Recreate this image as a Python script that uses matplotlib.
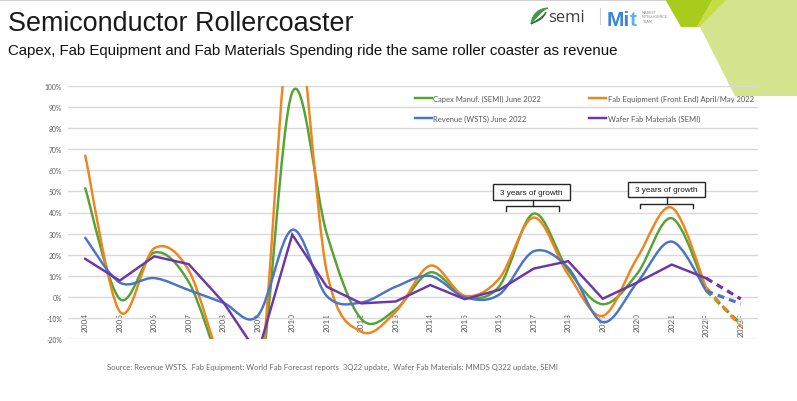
import numpy as np
import matplotlib
matplotlib.use("Agg")
import matplotlib.pyplot as plt
from matplotlib.path import Path
from matplotlib.patches import PathPatch, Polygon, Rectangle
from matplotlib.lines import Line2D

# ---------------- data (growth, %) ----------------
years = ["2004", "2005", "2006", "2007", "2008", "2009", "2010", "2011", "2012", "2013",
         "2014", "2015", "2016", "2017", "2018", "2019", "2020", "2021", "2022F", "2023F"]
capex = [51.5, -1.0, 21.0, 7.0, -34.0, -47.0, 97.0, 30.0, -10.5, -6.0,
         11.6, 0.0, 5.0, 39.5, 12.6, -3.5, 11.0, 37.3, 3.0, -13.0]
fab_equipment = [67.0, -7.0, 23.0, 12.5, -33.0, -49.0, 135.0, 12.0, -16.5, -7.0,
                 14.8, 0.5, 8.7, 37.6, 10.5, -9.0, 18.5, 42.3, 4.2, -14.0]
revenue = [28.0, 6.8, 8.9, 3.2, -2.8, -9.0, 31.8, 0.4, -2.7, 4.8,
           9.9, -0.2, 1.1, 21.6, 13.7, -12.0, 6.8, 26.2, 2.8, -3.3]
materials = [18.0, 7.7, 19.2, 15.5, -2.5, -27.0, 29.5, 4.8, -3.1, -2.2,
             5.6, -1.1, 3.3, 13.4, 16.9, -0.9, 6.8, 15.3, 8.8, -1.0]
series_labels = ["Capex Manuf. (SEMI) June 2022",
                 "Fab Equipment (Front End) April/May 2022",
                 "Revenue (WSTS) June 2022",
                 "Wafer Fab Materials (SEMI)"]
y_ticks = list(range(-20, 101, 10))
title = "Semiconductor Rollercoaster"
subtitle = "Capex, Fab Equipment and Fab Materials Spending ride the same roller coaster as revenue"
source = ("Source: Revenue WSTS.  Fab Equipment: World Fab Forecast reports  3Q22 update,  "
          "Wafer Fab Materials: MMDS Q322 update, SEMI")
note = "3 years of growth"

# ---------------- style ----------------
C_GREEN = "#55a332"
C_ORANGE = "#f0841e"
C_BLUE = "#4a74c4"
C_PURPLE = "#6c35a8"
GRID = "#d9d9d9"
TXT = "#595959"
CHART_FONT = "Lato"
HEAD_FONT = "Liberation Sans"

W, H = 797, 402
fig = plt.figure(figsize=(W / 100, H / 100), dpi=100)
fig.patch.set_facecolor("white")
renderer = fig.canvas.get_renderer()


def text_width(s, family, size, weight="normal"):
    t = fig.text(0, 0, s, fontsize=size, family=family, weight=weight)
    w = t.get_window_extent(renderer=renderer).width
    t.remove()
    return w


def fitted_size(s, family, target_px, weight="normal", base=10.0):
    return base * target_px / text_width(s, family, base, weight)


# ---------------- decoration layer (pixel coordinates) ----------------
deco = fig.add_axes([0, 0, 1, 1], zorder=0)
deco.set_xlim(0, W)
deco.set_ylim(H, 0)
deco.axis("off")

deco.plot([0, 665], [0.6, 0.6], color="#c9c9c9", lw=1.2)
deco.add_patch(Polygon([(728, 0), (797, 0), (797, 97), (735, 97), (700, 28)],
                       closed=True, fc="#d5e58f", ec="none"))
deco.add_patch(Polygon([(713, 0), (728, 0), (700, 28), (697, 28)],
                       closed=True, fc="#c6dd45", ec="none"))
deco.add_patch(Polygon([(665, 0), (713, 0), (697, 28), (681, 28)],
                       closed=True, fc="#a9cb1c", ec="none"))

# semi logo (swoosh + word)
sw = Path([(531, 25), (532, 14), (540, 9), (548, 9), (541, 12), (537, 18), (531, 25)],
          [Path.MOVETO, Path.CURVE4, Path.CURVE4, Path.CURVE4,
           Path.CURVE4, Path.CURVE4, Path.CURVE4])
deco.add_patch(PathPatch(sw, fc="#3d9a3d", ec="#3d9a3d", lw=0.6))
sw2 = Path([(531, 25), (538, 22), (544, 20), (546, 13), (542, 19), (537, 21), (531, 25)],
           [Path.MOVETO, Path.CURVE4, Path.CURVE4, Path.CURVE4,
            Path.CURVE4, Path.CURVE4, Path.CURVE4])
deco.add_patch(PathPatch(sw2, fc="#1f6e2a", ec="#1f6e2a", lw=0.6))
deco.text(548, 22, "semi", fontsize=12.0, family="Open Sans", color="#3f3f3f",
          va="baseline", ha="left")
deco.plot([600, 600], [9, 25], color="#d0d0d0", lw=0.8)
deco.text(607, 25.5, "Mi", fontsize=15, family="Liberation Sans", weight="bold",
          color="#3a86d6", va="baseline", ha="left")
deco.text(630, 25.5, "t", fontsize=15, family="Liberation Sans", weight="bold",
          color="#5fb3ea", va="baseline", ha="left")
deco.text(642, 17.5, "MARKET\nINTELLIGENCE\nTEAM", fontsize=2.6, family="DejaVu Sans",
          color="#8a8a8a", va="center", ha="left", linespacing=1.2)

# headings
deco.text(8, 31, title, family=HEAD_FONT, color="#1a1a1a", va="baseline", ha="left",
          fontsize=fitted_size(title, HEAD_FONT, 347))
deco.text(8, 55, subtitle, family=HEAD_FONT, color="#111111", va="baseline", ha="left",
          fontsize=fitted_size(subtitle, HEAD_FONT, 614))
deco.text(107, 370, source, family=CHART_FONT, color="#6a6a6a", va="baseline", ha="left",
          fontsize=fitted_size(source, CHART_FONT, 449))

# ---------------- chart ----------------
ax = fig.add_axes([68 / W, 1 - 340 / H, 690 / W, 253 / H], zorder=2)
ax.patch.set_alpha(0)
x = np.arange(len(years))
ax.set_xlim(-0.5, len(years) - 0.5)
ax.set_ylim(y_ticks[0], y_ticks[-1])
for s in ax.spines.values():
    s.set_visible(False)

ax.set_yticks(y_ticks)
ytick_fs = fitted_size("-10%", CHART_FONT, 15.7)
ax.set_yticklabels([f"{v}%" for v in y_ticks], family=CHART_FONT, fontsize=ytick_fs, color=TXT)
ax.tick_params(axis="y", length=0, pad=4.3)
ax.yaxis.grid(True, color=GRID, lw=1.0)
ax.set_axisbelow(True)

xtick_fs = fitted_size("2004", CHART_FONT, 19)
ax.set_xticks(x)
ax.set_xticklabels(years, rotation=90, family=CHART_FONT, fontsize=xtick_fs, color=TXT)
ax.tick_params(axis="x", length=0, pad=-19.4)


def smooth_path(xs, ys):
    pts = np.column_stack([xs, ys]).astype(float)
    n = len(pts)
    verts = [pts[0]]
    codes = [Path.MOVETO]
    for i in range(n - 1):
        p0 = pts[i - 1] if i > 0 else pts[i]
        p1 = pts[i]
        p2 = pts[i + 1]
        p3 = pts[i + 2] if i + 2 < n else pts[i + 1]
        verts += [p1 + (p2 - p0) / 6.0, p2 - (p3 - p1) / 6.0, p2]
        codes += [Path.CURVE4] * 3
    return Path(verts, codes)


LW = 1.75
n_act = len(years) - 1  # solid through 2022F, dashed to 2023F
for vals, col in [(capex, C_GREEN), (fab_equipment, C_ORANGE), (revenue, C_BLUE)]:
    ax.add_patch(PathPatch(smooth_path(x[:n_act], vals[:n_act]), fill=False,
                           edgecolor=col, lw=LW, capstyle="round", joinstyle="round"))
ax.plot(x[:n_act], materials[:n_act], color=C_PURPLE, lw=LW, solid_joinstyle="miter")

for vals, col in [(capex, C_GREEN), (fab_equipment, C_ORANGE), (revenue, C_BLUE), (materials, C_PURPLE)]:
    ax.plot(x[n_act - 1:], vals[n_act - 1:], color=col, lw=2.3, ls=(0, (2.2, 1.6)),
            dash_capstyle="butt")

# legend
leg_fs = fitted_size(series_labels[1], CHART_FONT, 145)
fs_px = leg_fs * 100 / 72
w_capex = text_width(series_labels[0], CHART_FONT, leg_fs)
handle_px, pad_px = 17, 1.5
col_space = (589 - (415 + handle_px + pad_px + w_capex)) / fs_px
handles = [Line2D([], [], color=C_GREEN, lw=LW), Line2D([], [], color=C_BLUE, lw=LW),
           Line2D([], [], color=C_ORANGE, lw=LW), Line2D([], [], color=C_PURPLE, lw=LW)]
labels = [series_labels[0], series_labels[2], series_labels[1], series_labels[3]]
leg = ax.legend(handles, labels, ncol=2, loc="upper left",
                bbox_to_anchor=((415 - 68) / 690, (340 - 95.5) / 253),
                frameon=False, borderpad=0, borderaxespad=0,
                handlelength=handle_px / fs_px, handletextpad=pad_px / fs_px,
                columnspacing=col_space, labelspacing=(21 - fs_px * 1.0) / fs_px,
                prop={"family": CHART_FONT, "size": leg_fs})
for t in leg.get_texts():
    t.set_color(TXT)

# "3 years of growth" call-outs (annotation geometry in data units)
note_fs = fitted_size(note, HEAD_FONT, 62.7)
callouts = [
    # box x0, x1, y0, y1, bracket x0, x1, bracket y, tick bottom y, centre x
    (11.83, 14.05, 45.7, 53.6, 12.20, 13.74, 43.0, 40.9, 12.97),
    (15.74, 17.96, 47.3, 54.7, 16.08, 17.61, 44.1, 42.1, 16.85),
]
for bx0, bx1, by0, by1, kx0, kx1, ky, kyb, cx in callouts:
    ax.add_patch(Rectangle((bx0, by0), bx1 - bx0, by1 - by0, fc="white", ec="#262626",
                           lw=1.0, zorder=5))
    ax.text((bx0 + bx1) / 2, (by0 + by1) / 2, note, ha="center", va="center",
            family=HEAD_FONT, fontsize=note_fs, color="#1a1a1a", zorder=6)
    ax.plot([kx0, kx0, kx1, kx1], [kyb, ky, ky, kyb], color="#262626", lw=1.0, zorder=5)
    ax.plot([cx, cx], [ky, by0], color="#262626", lw=1.0, zorder=5)

fig.savefig("out.png", dpi=100, facecolor="white")
